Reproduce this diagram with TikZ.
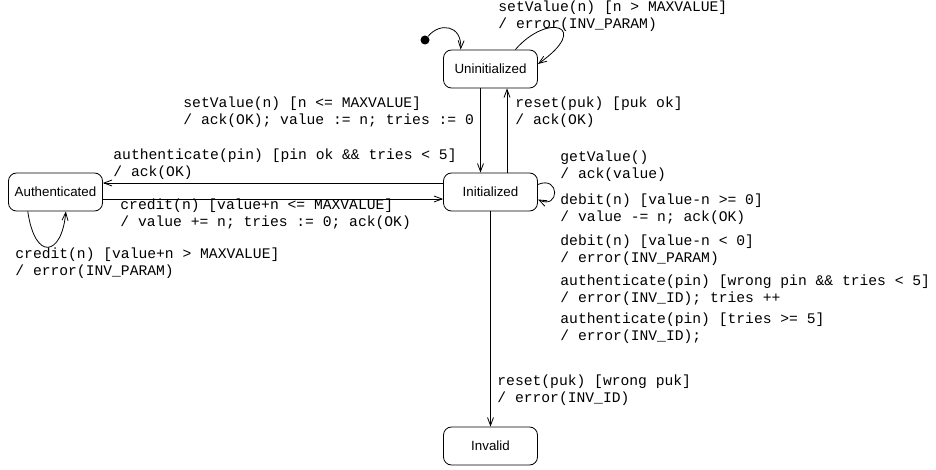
\documentclass[tikz,border=0pt]{standalone}
\usepackage{fontspec}
\setmainfont{Liberation Sans}
\setmonofont{Liberation Mono}
\usetikzlibrary{arrows.meta,positioning}

\begin{document}
\begin{tikzpicture}[
    x=0.75pt, y=-0.75pt,
    -{Straight Barb[length=6pt,width=4.5pt]},
    line width=0.6pt,
    state node/.style={draw,rounded corners=6pt,minimum width=70.5pt,minimum height=28.5pt,font=\fontsize{10}{12}\selectfont},
    init node/.style={circle,fill,inner sep=0pt,minimum size=6.75pt},
    trans label/.style={anchor=west,align=left,inner sep=0pt,font=\ttfamily\fontsize{11}{13}\selectfont}]

  \useasboundingbox (0,0) rectangle (936,470);

  \node[state node] (Init) at (490.5,192) {Initialized};
  \node[state node] (Uninit) [above of=Init, node distance=92.25pt] {Uninitialized};
  \node[state node] (Invalid) [below of=Init, node distance=190.5pt] {Invalid};
  \node[state node] (Auth) [left of=Init, node distance=326.25pt] {Authenticated};
  \node[init node] (Start) at (425,40) {};

  % labels
  \node[trans label] (SetBig) at (498,16) {setValue(n) [n > MAXVALUE]\\/ error(INV\_PARAM)};
  \node[trans label] (SetOk) at (183,112.5) {setValue(n) [n <= MAXVALUE]\\/ ack(OK); value := n; tries := 0};
  \node[trans label] (ResetOk) at (515,112.5) {reset(puk) [puk ok]\\/ ack(OK)};
  \node[trans label] (AuthOk) at (113,164.5) {authenticate(pin) [pin ok \&\& tries < 5]\\/ ack(OK)};
  \node[trans label] (CreditOk) at (120,214.5) {credit(n) [value+n <= MAXVALUE]\\/ value += n; tries := 0; ack(OK)};
  \node[trans label] (CreditBig) at (15,263.5) {credit(n) [value+n > MAXVALUE]\\/ error(INV\_PARAM)};
  \node[trans label] (GetVal) at (560,166.5) {getValue()\\/ ack(value)};
  \node[trans label] (DebitOk) at (560,209) {debit(n) [value-n >= 0]\\/ value -= n; ack(OK)};
  \node[trans label] (DebitBad) at (560,250.5) {debit(n) [value-n < 0]\\/ error(INV\_PARAM)};
  \node[trans label] (AuthWrong) at (560,290) {authenticate(pin) [wrong pin \&\& tries < 5]\\/ error(INV\_ID); tries ++};
  \node[trans label] (AuthMax) at (560,328.5) {authenticate(pin) [tries >= 5]\\/ error(INV\_ID);};
  \node[trans label] (ResetBad) at (497,390.5) {reset(puk) [wrong puk]\\/ error(INV\_ID)};

  \path
    ([xshift=-7.5pt]Uninit.south) edge ([xshift=-7.5pt]Init.north)
    ([xshift=12.4pt]Init.north) edge ([xshift=12.4pt]Uninit.south)
    ([yshift=6.75pt]Init.west) edge ([yshift=6.75pt]Auth.east)
    ([yshift=-5.25pt]Auth.east) edge ([yshift=-5.25pt]Init.west)
    (Init.south) edge (Invalid.north);

  % initial and self loops
  \draw (Start) .. controls (440,22) and (462,25) .. (Uninit.147);
  \draw (Uninit.38) .. controls (548,12) and (592,26) .. (Uninit.6);
  \draw (Init.9.5) .. controls (560,175) and (560,210) .. (Init.-9.5);
  \draw (Auth.215) .. controls (35,262) and (62,256) .. (Auth.-62);
\end{tikzpicture}
\end{document}
